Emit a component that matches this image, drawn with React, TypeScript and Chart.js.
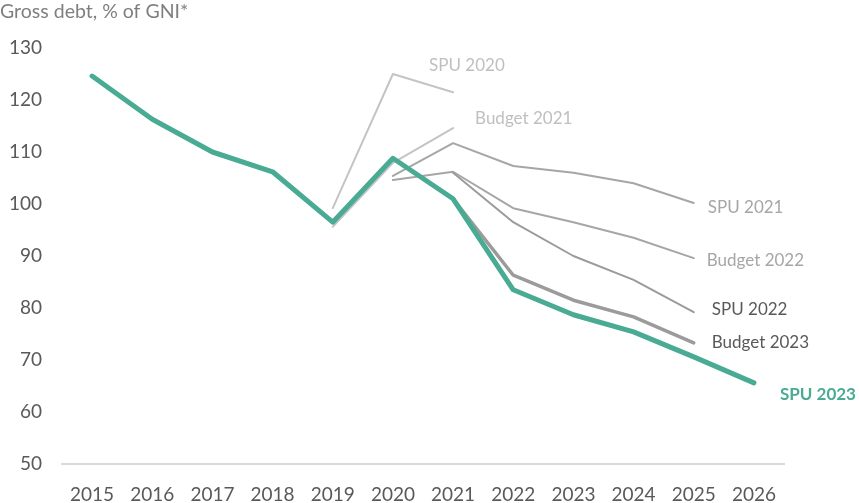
import React, { useEffect, useRef } from "react";
import { Chart, registerables } from "chart.js";
Chart.register(...registerables);

const years = ["2015", "2016", "2017", "2018", "2019", "2020", "2021", "2022", "2023", "2024", "2025", "2026"];
const yTicks = [50, 60, 70, 80, 90, 100, 110, 120, 130];

const spu2020 = [null, null, null, null, 99.2, 125.0, 121.5, null, null, null, null, null];
const budget2021 = [null, null, null, null, 95.6, 107.9, 114.6, null, null, null, null, null];
const spu2021 = [null, null, null, null, null, 105.4, 111.7, 107.3, 106.0, 104.0, 100.2, null];
const budget2022 = [null, null, null, null, null, 104.6, 106.2, 99.2, 96.5, 93.5, 89.6, null];
const spu2022 = [null, null, null, null, null, null, 106.0, 96.5, 90.0, 85.4, 79.2, null];
const budget2023 = [null, null, null, null, null, null, 101.0, 86.3, 81.5, 78.3, 73.3, null];
const spu2023 = [124.6, 116.3, 110.0, 106.2, 96.5, 108.8, 101.0, 83.5, 78.7, 75.4, 70.6, 65.6];

const FONT = "Lato, 'DejaVu Sans', sans-serif";

type LabelCfg = { text: string; color: string; dx: number; dy: number; bold?: boolean; size: number };

const endLabels: Record<number, LabelCfg> = {
  0: { text: "SPU 2023", color: "#4aab95", dx: 26, dy: 12, bold: true, size: 17 },
  1: { text: "Budget 2023", color: "#595959", dx: 18, dy: 0, size: 17 },
  2: { text: "SPU 2022", color: "#595959", dx: 18, dy: -3, size: 17 },
  3: { text: "Budget 2022", color: "#a6a6a6", dx: 13, dy: 2, size: 17 },
  4: { text: "SPU 2021", color: "#a6a6a6", dx: 14, dy: 5, size: 17 },
  5: { text: "Budget 2021", color: "#bfbfbf", dx: 22, dy: -10, size: 17 },
  6: { text: "SPU 2020", color: "#bfbfbf", dx: -24, dy: -27, size: 17 },
};

const labelPlugin = {
  id: "endLabels",
  afterDatasetsDraw(chart: any) {
    const ctx = chart.ctx;
    ctx.save();
    chart.data.datasets.forEach((ds: any, i: number) => {
      const cfg = endLabels[i];
      if (!cfg) return;
      const meta = chart.getDatasetMeta(i);
      let last = -1;
      ds.data.forEach((v: any, j: number) => { if (v !== null) last = j; });
      if (last < 0) return;
      const pt = meta.data[last];
      ctx.font = `${cfg.bold ? "bold " : ""}${cfg.size}px ${FONT}`;
      ctx.fillStyle = cfg.color;
      ctx.textAlign = "left";
      ctx.textBaseline = "middle";
      ctx.fillText(cfg.text, pt.x + cfg.dx, pt.y + cfg.dy);
    });
    ctx.font = `19.5px ${FONT}`;
    ctx.fillStyle = "#7f7f7f";
    ctx.textAlign = "left";
    ctx.textBaseline = "middle";
    ctx.fillText("Gross debt, % of GNI*", 0, 12);
    ctx.restore();
  },
};

export default function App() {
  const ref = useRef<HTMLCanvasElement>(null);
  useEffect(() => {
    document.body.style.margin = "0";
    const line = (data: any[], color: string, width: number, order: number) => ({
      data,
      borderColor: color,
      backgroundColor: color,
      borderWidth: width,
      pointRadius: 0,
      borderCapStyle: "round",
      borderJoinStyle: "round",
      spanGaps: false,
      order,
    });
    const chart = new Chart(ref.current!, {
      type: "line",
      data: {
        labels: years,
        datasets: [
          line(spu2023, "#4aab95", 5, 0),
          line(budget2023, "#9b9b9b", 3.5, 1),
          line(spu2022, "#9b9b9b", 2, 2),
          line(budget2022, "#a6a6a6", 2, 3),
          line(spu2021, "#a6a6a6", 2, 4),
          line(budget2021, "#c4c4c4", 2, 5),
          line(spu2020, "#c4c4c4", 2, 6),
        ] as any,
      },
      options: {
        animation: false,
        responsive: false,
        maintainAspectRatio: false,
        layout: { padding: { top: 48, right: 75, left: 0, bottom: 0 } },
        plugins: { legend: { display: false }, tooltip: { enabled: false }, title: { display: false } },
        scales: {
          x: {
            offset: true,
            grid: { display: false },
            border: { display: true, color: "#d9d9d9", width: 2 },
            ticks: { color: "#595959", font: { family: FONT, size: 19 }, padding: 11, maxRotation: 0, autoSkip: false },
            afterFit: (s: any) => { s.height = 39; },
          },
          y: {
            min: 50,
            max: 130,
            afterBuildTicks: (s: any) => { s.ticks = yTicks.map((v) => ({ value: v })); },
            grid: { display: false, drawTicks: false },
            border: { display: false },
            ticks: { color: "#595959", font: { family: FONT, size: 19 }, padding: 20 },
            afterFit: (s: any) => { s.width = 62; },
          },
        },
      },
      plugins: [labelPlugin],
    });
    return () => chart.destroy();
  }, []);
  return (
    <div style={{ width: 859, height: 503 }}>
      <canvas ref={ref} width={859} height={503} style={{ width: 859, height: 503 }} />
    </div>
  );
}
